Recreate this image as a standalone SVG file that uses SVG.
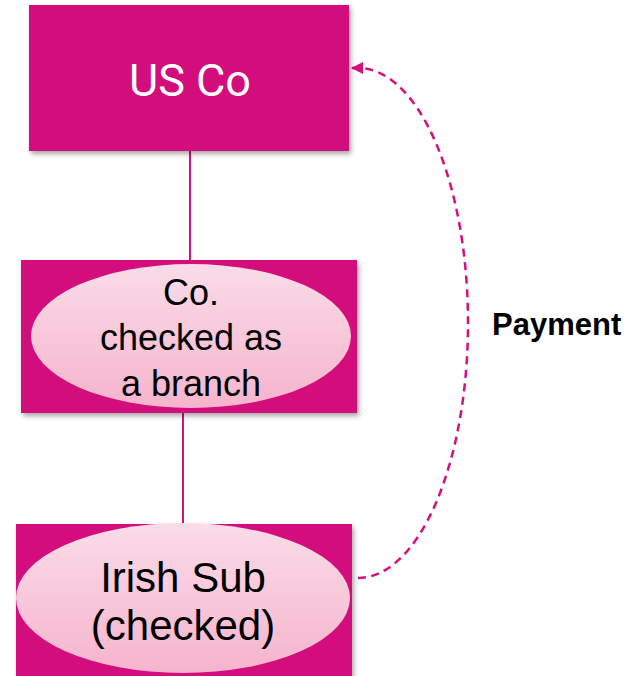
<svg xmlns="http://www.w3.org/2000/svg" width="631" height="676" viewBox="0 0 631 676">
<style>
.box{fill:#D4107C;}
.conn{stroke:#D4107C;stroke-width:2;fill:none;}
.dash{stroke:#D4107C;stroke-width:2.5;fill:none;stroke-dasharray:8 5.5;}
.lbl{font-family:"Liberation Sans",Arial,sans-serif;fill:#000;text-anchor:middle;}
.us{font-family:Roboto,"Liberation Sans",sans-serif;font-weight:400;fill:#fff;font-size:45px;text-anchor:middle;}
.pay{font-family:"Liberation Sans",Arial,sans-serif;font-weight:bold;font-size:31px;fill:#000;}
</style>
<defs>
<filter id="sh" x="-10%" y="-10%" width="130%" height="130%">
<feDropShadow dx="2" dy="3" stdDeviation="2.5" flood-color="#000" flood-opacity="0.35"/>
</filter>
<linearGradient id="pk" x1="0" y1="0" x2="0" y2="1">
<stop offset="0" stop-color="#FADCE8"/>
<stop offset="1" stop-color="#F6B4CC"/>
</linearGradient>
<marker id="ah" markerWidth="14" markerHeight="14" refX="12" refY="6" orient="auto" markerUnits="userSpaceOnUse">
<path d="M0,0 L12,6 L0,12 Z" fill="#D4107C"/>
</marker>
</defs>
<g id="connectors">
<line class="conn" x1="190" y1="151" x2="190" y2="260"/>
<line class="conn" x1="183" y1="413" x2="183" y2="524"/>
<path class="dash" d="M358,578 A110,255 0 0 0 358,68 L351,68" marker-end="url(#ah)"/>
</g>
<g id="usco">
<rect class="box" x="29" y="5" width="320" height="146" filter="url(#sh)"/>
<text class="us" x="190" y="96">US Co</text>
</g>
<g id="branch">
<rect class="box" x="21" y="260" width="336" height="153" filter="url(#sh)"/>
<ellipse cx="191" cy="336" rx="160" ry="72" fill="url(#pk)"/>
<text class="lbl" font-size="36" x="191" y="305">Co.</text>
<text class="lbl" font-size="36" x="191" y="350">checked as</text>
<text class="lbl" font-size="36" x="191" y="396">a branch</text>
</g>
<g id="irish">
<rect class="box" x="16" y="524" width="336" height="160" filter="url(#sh)"/>
<ellipse cx="183" cy="598" rx="167" ry="75" fill="url(#pk)"/>
<text class="lbl" font-size="42" x="183" y="592">Irish Sub</text>
<text class="lbl" font-size="42" x="183" y="640">(checked)</text>
</g>
<g id="payment">
<text class="pay" x="492" y="335">Payment</text>
</g>
</svg>
